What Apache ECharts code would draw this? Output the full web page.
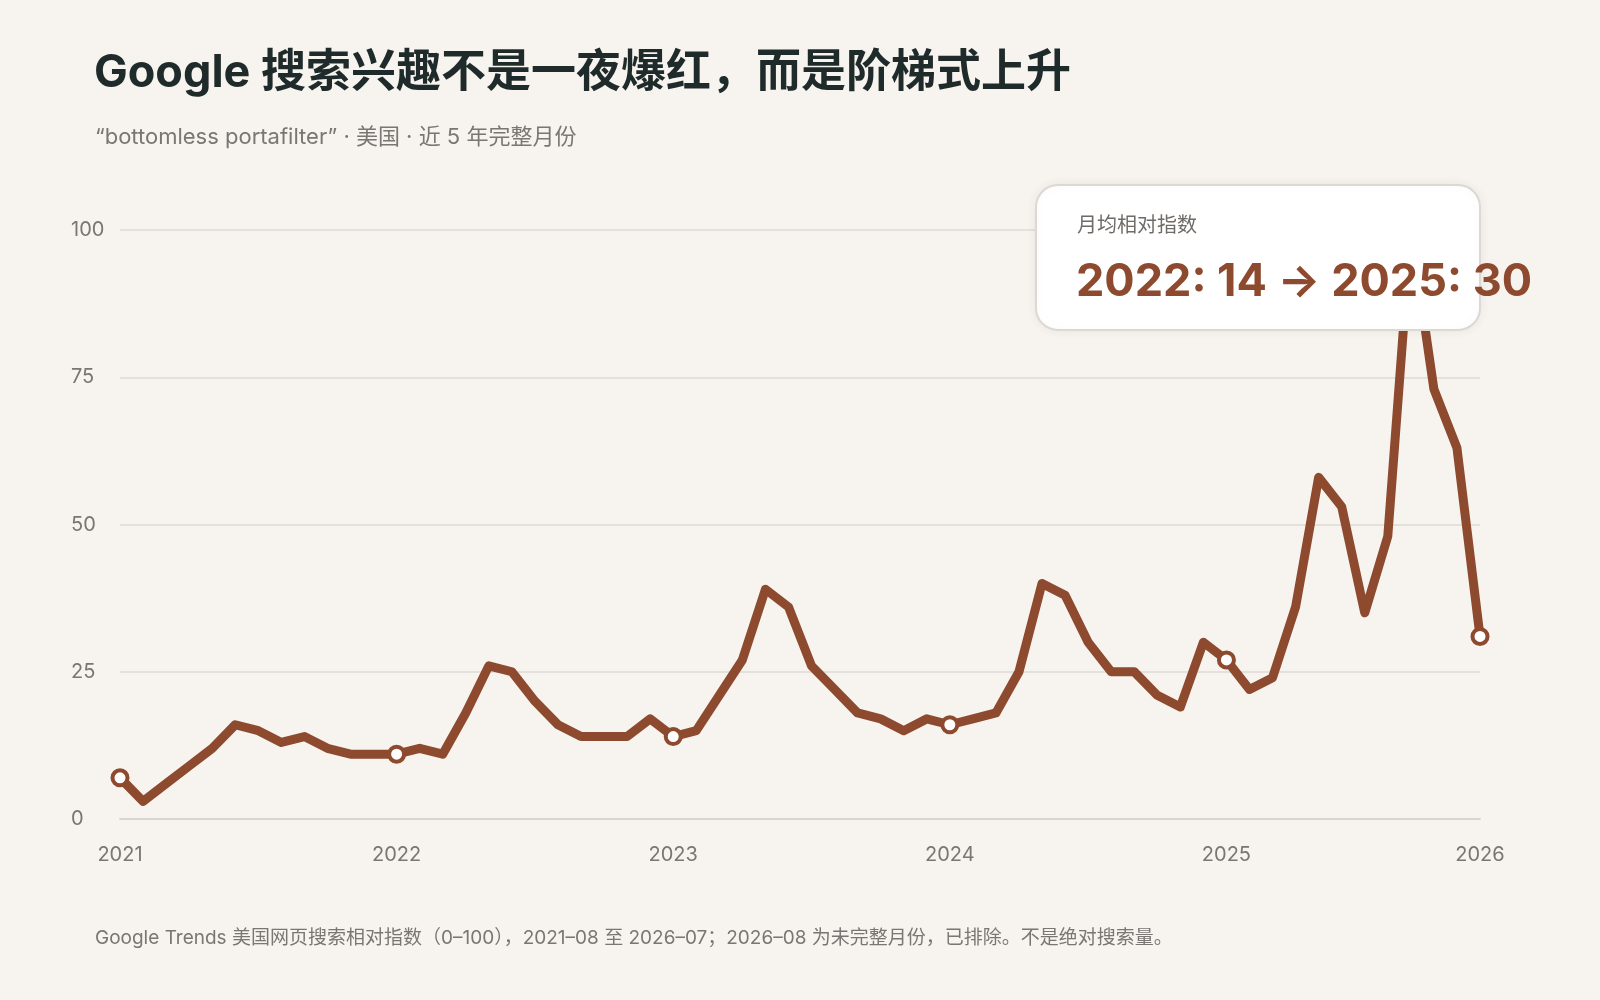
<!DOCTYPE html>
<html><head><meta charset="utf-8">
<script src="https://cdn.jsdelivr.net/npm/echarts@6/dist/echarts.min.js"></script>
<style>html,body{margin:0;background:#F7F3EE}#c{width:1600px;height:1000px}</style>
</head><body><div id="c"></div>
<script>
const months = [];
for (let i = 0; i < 60; i++) { const m = (7 + i) % 12 + 1, y = 2021 + Math.floor((7 + i) / 12); months.push(y + '-' + String(m).padStart(2, '0')); }
const values = [7,3,6,9,12,16,15,13,14,12,11,11,11,12,11,18,26,25,20,16,14,14,14,17,14,15,21,27,39,36,26,22,18,17,15,17,16,17,18,25,40,38,30,25,25,21,19,30,27,22,24,36,58,53,35,48,100,73,63,31];
const labelIdx = [0,12,24,36,48,59];
const tickLabels = ['2021','2022','2023','2024','2025','2026'];
const F = 'Inter,"Noto Sans CJK SC",sans-serif';
const brown = '#8D4A2E';
const chart = echarts.init(document.getElementById('c'));
chart.setOption({
  backgroundColor: '#F7F3EE',
  animation: false,
  title: [
    {text: 'Google 搜索兴趣不是一夜爆红，而是阶梯式上升', left: 89, top: 46, textStyle: {fontFamily: F, fontSize: 45, fontWeight: 'bold', color: '#1F2A2A'}},
    {text: '“bottomless portafilter” · 美国 · 近 5 年完整月份', left: 90, top: 121, textStyle: {fontFamily: F, fontSize: 22, fontWeight: 'normal', color: '#7A7673'}},
    {text: 'Google Trends 美国网页搜索相对指数（0–100），2021–08 至 2026–07；2026–08 为未完整月份，已排除。不是绝对搜索量。', left: 90, top: 924, textStyle: {fontFamily: F, fontSize: 19, fontWeight: 'normal', color: '#7A7673'}}
  ],
  grid: {left: 120, right: 120, top: 230, bottom: 181},
  xAxis: {
    type: 'category', data: months, boundaryGap: false,
    axisLine: {lineStyle: {color: '#D8D4CF', width: 2}}, axisTick: {show: false},
    axisLabel: {interval: (i) => labelIdx.includes(i), formatter: (v, i) => tickLabels[labelIdx.indexOf(i)] || '', color: '#7A7673', fontSize: 20, fontFamily: F, margin: 26, showMaxLabel: true}
  },
  yAxis: {
    type: 'value', min: 0, max: 100, interval: 25,
    axisLabel: {color: '#7A7673', fontSize: 20, fontFamily: F, margin: 49, align: 'left'},
    splitLine: {lineStyle: {color: '#DEDAD5', width: 1.5}}
  },
  series: [{
    type: 'line', data: values, z: 2,
    lineStyle: {color: brown, width: 9, join: 'round'},
    itemStyle: {color: '#fff', borderColor: brown, borderWidth: 4},
    symbol: 'circle', showAllSymbol: true,
    symbolSize: (v, p) => labelIdx.includes(p.dataIndex) ? 15 : 0
  }],
  graphic: [
    {type: 'rect', z: 100, shape: {x: 1036, y: 185, width: 444, height: 145, r: 22},
     style: {fill: '#fff', stroke: '#DDD8D2', lineWidth: 2, shadowBlur: 12, shadowColor: 'rgba(0,0,0,0.06)'}},
    {type: 'text', z: 101, left: 1077, top: 216, style: {text: '月均相对指数', fontFamily: F, fontSize: 20, fill: '#6F6B68'}},
    {type: 'text', z: 101, left: 1076, top: 260, style: {text: '2022: 14 → 2025: 30', fontFamily: F, fontSize: 45, fontWeight: 'bold', fill: brown}}
  ]
});
</script></body></html>
